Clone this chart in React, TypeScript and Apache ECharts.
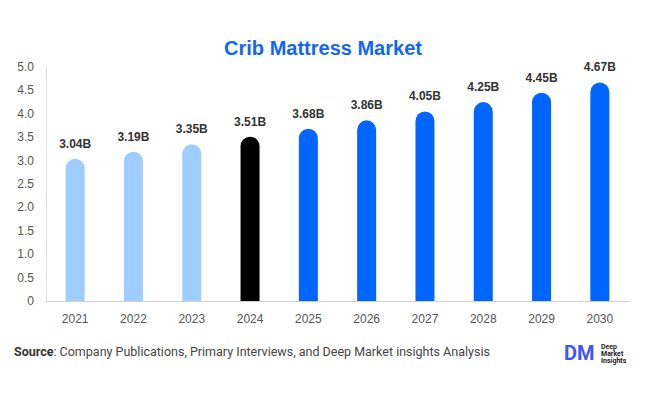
import React, { useEffect, useRef } from "react";
import * as echarts from "echarts";

const years = ["2021", "2022", "2023", "2024", "2025", "2026", "2027", "2028", "2029", "2030"];
const values = [3.04, 3.19, 3.35, 3.51, 3.68, 3.86, 4.05, 4.25, 4.45, 4.67];
const barColors = ["#a0cdff", "#a0cdff", "#a0cdff", "#000000", "#0066ff", "#0066ff", "#0066ff", "#0066ff", "#0066ff", "#0066ff"];

export default function App() {
  const ref = useRef<HTMLDivElement>(null);
  useEffect(() => {
    const chart = echarts.init(ref.current!, null, { renderer: "svg" });
    chart.setOption({
      animation: false,
      backgroundColor: "#ffffff",
      title: {
        text: "Crib Mattress Market",
        left: "center",
        top: 33,
        textStyle: { color: "#1167f2", fontSize: 20, fontWeight: "bold", fontFamily: "Liberation Sans, Arial, sans-serif" },
      },
      grid: { left: 46, right: 17, top: 67, bottom: 93, containLabel: false },
      xAxis: {
        type: "category",
        data: years,
        axisLine: { lineStyle: { color: "#d0d0d0" } },
        axisTick: { show: false },
        axisLabel: { color: "#555", fontSize: 12, margin: 12, fontFamily: "Liberation Sans, Arial, sans-serif" },
      },
      yAxis: {
        type: "value",
        min: 0,
        max: 5,
        interval: 0.5,
        axisLine: { show: true, lineStyle: { color: "#e0e0e0" } },
        splitLine: { show: false },
        axisTick: { show: false },
        axisLabel: {
          color: "#555",
          fontSize: 12,
          margin: 12,
          fontFamily: "Liberation Sans, Arial, sans-serif",
          formatter: (v: number) => (v === 0 ? "0" : v.toFixed(1)),
        },
      },
      series: [
        {
          type: "bar",
          barWidth: 19,
          data: values.map((v, i) => ({ value: v, itemStyle: { color: barColors[i], borderRadius: [10, 10, 0, 0] } })),
          label: {
            show: true,
            position: "top",
            distance: 9,
            color: "#333",
            fontSize: 12,
            fontWeight: "bold",
            fontFamily: "Liberation Sans, Arial, sans-serif",
            formatter: (p: any) => p.value.toFixed(2) + "B",
          },
        },
      ],
      graphic: [
        {
          type: "text",
          left: 14,
          top: 345,
          style: {
            text: "{b|Source}: Company Publications, Primary Interviews, and Deep Market insights Analysis",
            rich: {
              b: { fontWeight: "bold", fontSize: 12.5, fill: "#333", fontFamily: "Roboto, sans-serif" },
            },
            fontSize: 12.5,
            fill: "#444",
            fontFamily: "Roboto, sans-serif",
          },
        },
        {
          type: "text",
          left: 564,
          top: 343,
          style: { text: "DM", fontSize: 20, fontWeight: "bold", fill: "#3f56f0", fontFamily: "Roboto, sans-serif" },
        },
        {
          type: "text",
          left: 601,
          top: 343,
          style: { text: "Deep\nMarket\nInsights", fontSize: 7, lineHeight: 7, fill: "#222", fontWeight: "bold", fontFamily: "Roboto, sans-serif" },
        },
      ],
    });
    return () => chart.dispose();
  }, []);
  return <div ref={ref} style={{ position: "fixed", left: 0, top: 0, width: 646, height: 394 }} />;
}
